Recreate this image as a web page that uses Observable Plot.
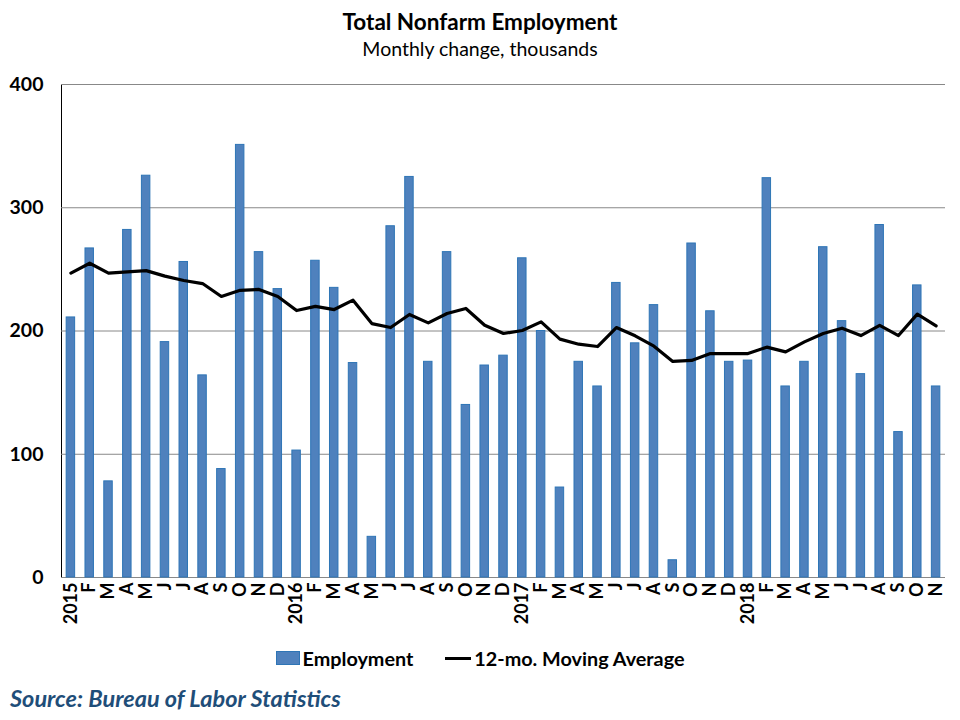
<!DOCTYPE html>
<html><head><meta charset="utf-8">
<script src="https://cdn.jsdelivr.net/npm/d3@7"></script>
<script src="https://cdn.jsdelivr.net/npm/@observablehq/plot@0.6"></script>
<style>
body{margin:0;background:#fff;font-family:Lato,"Open Sans",sans-serif;color:#000;}
#wrap{width:960px;height:720px;position:relative;overflow:hidden;}
#title{position:absolute;top:8px;left:0;width:960px;text-align:center;font-weight:bold;font-size:22.5px;}
#subtitle{position:absolute;top:37px;left:0;width:960px;text-align:center;font-size:19.5px;}
#chart{position:absolute;top:70px;left:0;}
#legend{position:absolute;top:646px;left:0;width:960px;display:flex;justify-content:center;align-items:center;font-weight:bold;font-size:19.8px;}
#legend .sw{display:inline-block;width:22px;height:12px;background:#4F81BD;border:1px solid #2E75B6;margin-right:3px;}
#legend .ln{display:inline-block;width:26px;height:3px;background:#000;margin-left:32px;margin-right:3px;}
#source{position:absolute;top:684px;left:10px;font-style:italic;font-weight:bold;font-size:23.5px;color:#1F4E79;}
</style></head>
<body><div id="wrap">
<div id="title">Total Nonfarm Employment</div>
<div id="subtitle">Monthly change, thousands</div>
<div id="chart"></div>
<div id="legend"><span class="sw"></span><span>Employment</span><span class="ln"></span><span>12-mo. Moving Average</span></div>
<div id="source">Source: Bureau of Labor Statistics</div>
</div>
<script>
const tickLabels = ["2015","F","M","A","M","J","J","A","S","O","N","D",
  "2016","F","M","A","M","J","J","A","S","O","N","D",
  "2017","F","M","A","M","J","J","A","S","O","N","D",
  "2018","F","M","A","M","J","J","A","S","O","N"];
const employment = [211,267,78,282,326,191,256,164,88,351,264,234,
  103,257,235,174,33,285,325,175,264,140,172,180,
  259,200,73,175,155,239,190,221,14,271,216,175,
  176,324,155,175,268,208,165,286,118,237,155];
const movingAvg = [247,255,247,248,249,244.5,241,238.5,228,233,233.7,228,
  216.6,220,217.4,225,206,202.8,213.4,206.6,214.2,218.3,204.7,198,
  200.4,207.4,193.4,189.3,187.4,202.8,196.1,187.7,175.3,176.1,181.7,181.7,
  181.7,186.9,183.1,191.2,198,202.3,196.3,204.5,196.3,213.7,204.2];
const yTicks = [0,100,200,300,400];

const data = employment.map((v,i)=>({i, v, ma: movingAvg[i]}));

const chart = Plot.plot({
  width:960, height:562,
  marginTop:14, marginLeft:61, marginRight:15, marginBottom:55,
  style:{fontFamily:"Lato, 'Open Sans', sans-serif", fontSize:"18px", fontWeight:"bold", color:"#000", background:"#fff"},
  x:{type:"band", domain:d3.range(tickLabels.length), paddingInner:0.55, paddingOuter:0.275,
     tickFormat:i=>tickLabels[i], tickRotate:-90, tickSize:0, tickPadding:5, label:null},
  y:{domain:[0,400], ticks:yTicks, tickSize:0, tickPadding:18, label:null, line:true},
  marks:[
    Plot.ruleY(yTicks, {stroke:"#888", strokeWidth:1}),
    Plot.barY(data, {x:"i", y:"v", fill:"#4F81BD", stroke:"#2E75B6", strokeWidth:1}),
    Plot.line(data, {x:"i", y:"ma", stroke:"#000", strokeWidth:3.2})
  ]
});
document.getElementById("chart").appendChild(chart);
d3.select(chart).selectAll("[aria-label='y-axis'] path, [aria-label='y-axis line'] line, [aria-label='y-axis line'] path").attr("stroke","#888");
d3.select(chart).selectAll("[aria-label='y-axis tick label'] text, [aria-label='y-axis'] text").style("font-size","19.5px");
</script>
</body></html>
